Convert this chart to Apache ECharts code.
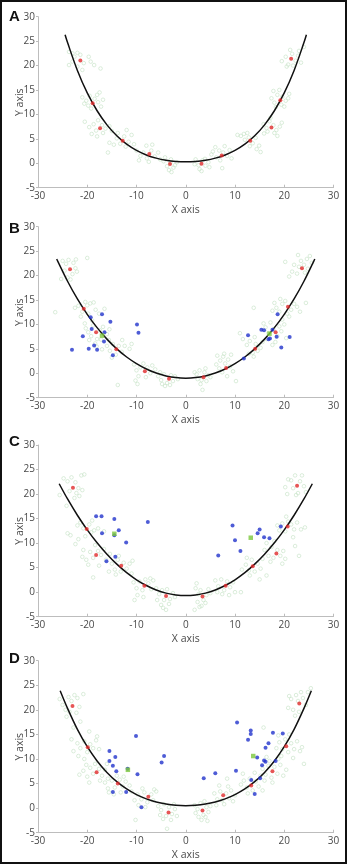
<!DOCTYPE html>
<html><head><meta charset="utf-8">
<script src="https://cdn.jsdelivr.net/npm/echarts@6/dist/echarts.min.js"></script>
<style>
html,body{margin:0;padding:0;background:#fff}
#c{position:absolute;left:0;top:0;width:347px;height:864px}
#frame{position:absolute;left:0;top:0;width:347px;height:864px;box-sizing:border-box;border:2px solid #111;pointer-events:none}
</style>
</head><body><div id="c"></div><div id="frame"></div>
<script>
// ---- data ----
const panelLabels = ['A', 'B', 'C', 'D'];
const xTicks = [-30, -20, -10, 0, 10, 20, 30];
const yTicks = [-5, 0, 5, 10, 15, 20, 25, 30];

// fitted curves
const curveXA = [-24.5,-24,-22,-20,-18,-16,-14,-12,-10,-8,-6,-4,-2,0,2,4,6,8,10,12,14,16,18,20,22,24,24.5];
const curveYA = [26.3,24.7,19.0,14.4,10.75,7.86,5.62,3.9,2.63,1.7,1.05,0.62,0.38,0.3,0.38,0.62,1.05,1.7,2.63,3.9,5.62,7.86,10.75,14.4,19.0,24.7,26.3];
const curveXB = [-26.2,-26,-24,-22,-20,-18,-16,-14,-12,-10,-8,-6,-4,-2,0,2,4,6,8,10,12,14,16,18,20,22,24,26,26.2];
const curveYB = [23.4,22.96,18.84,15.22,12.07,9.34,6.99,5.0,3.33,1.97,0.87,0.04,-0.54,-0.89,-1.0,-0.89,-0.54,0.04,0.87,1.97,3.33,5.0,6.99,9.34,12.07,15.22,18.84,22.96,23.4];
const curveXC = [-25.7,-24,-22,-20,-18,-16,-14,-12,-10,-8,-6,-4,-2,0,2,4,6,8,10,12,14,16,18,20,22,24,25.7];
const curveYC = [22.1,19.0,15.68,12.7,10.06,7.73,5.71,3.98,2.53,1.36,0.45,-0.19,-0.57,-0.7,-0.57,-0.19,0.45,1.36,2.53,3.98,5.71,7.73,10.06,12.7,15.68,19.0,22.1];
const curveXD = [-25.5,-24,-22,-20,-18,-16,-14,-12,-10,-8,-6,-4,-2,0,2,4,6,8,10,12,14,16,18,20,22,24,25.5];
const curveYD = [23.9,20.31,16.04,12.5,9.6,7.26,5.38,3.9,2.75,1.88,1.25,0.83,0.58,0.5,0.58,0.83,1.25,1.88,2.75,3.9,5.38,7.26,9.6,12.5,16.04,20.31,23.9];

// red points
const redA = [[-21.4,21.06],[-18.9,12.26],[-17.4,7.15],[-12.8,4.6],[-7.4,1.9],[-3.2,-0.15],[3.2,-0.08],[7.3,1.6],[13.1,4.6],[17.4,7.3],[19.2,12.9],[21.4,21.4]];
const redB = [[-23.5,21.3],[-20.7,13.2],[-18.2,8.4],[-14.1,4.9],[-8.3,0.4],[-3.4,-1.1],[3.6,-0.8],[8.2,1.1],[14.1,5.0],[18.25,8.4],[20.75,13.6],[23.6,21.5]];
const redC = [[-22.9,21.3],[-20.1,12.87],[-18.2,7.6],[-13.1,5.4],[-8.4,1.3],[-4.0,-0.8],[3.4,-0.9],[8.1,1.3],[13.6,5.3],[18.4,7.9],[20.7,13.4],[22.6,21.7]];
const redD = [[-23.0,20.8],[-19.9,12.4],[-18.1,7.3],[-13.8,5.0],[-7.6,2.3],[-3.5,-0.9],[3.4,-0.5],[7.6,2.6],[13.3,4.6],[17.6,7.5],[20.4,12.6],[23.05,21.3]];

// blue points
const blueA = [];
const blueB = [[-19.3,11.45],[-17.0,12.06],[-15.3,10.56],[-19.1,9.06],[-20.9,7.6],[-16.5,8.4],[-16.6,6.5],[-23.1,4.8],[-19.7,5.0],[-18.6,5.7],[-18.0,4.8],[-14.8,3.7],[-9.9,10.0],[-9.6,8.3],
  [18.65,12.1],[12.65,7.8],[15.35,8.9],[15.9,8.8],[17.6,8.9],[18.45,7.5],[16.8,6.95],[17.1,7.1],[21.1,7.4],[19.4,5.3],[11.8,3.0]];
const blueC = [[-18.2,15.5],[-17.1,15.5],[-14.5,14.9],[-17.0,12.0],[-14.5,11.6],[-13.6,12.6],[-12.1,10.15],[-16.1,6.3],[-14.3,7.2],[-7.7,14.3],
  [6.6,7.5],[9.5,13.6],[10.0,10.6],[11.1,8.4],[14.6,12.0],[15.0,12.8],[15.9,11.2],[17.0,11.0],[19.3,13.4]];
const blueD = [[-15.5,11.6],[-15.5,9.6],[-14.3,10.4],[-14.8,8.6],[-14.1,7.5],[-11.8,8.0],[-9.8,6.9],[-14.8,3.3],[-12.1,3.3],[-9.0,0.2],[-10.1,14.7],[-4.4,10.6],[-4.9,9.3],
  [3.65,6.1],[6.0,7.1],[10.2,7.6],[10.42,17.4],[13.2,15.8],[13.2,15.1],[12.65,13.9],[14.5,10.3],[16.8,13.2],[16.2,12.3],[17.7,15.35],[19.7,15.2],[15.9,9.7],[16.2,9.45],[18.25,9.6],[15.5,8.7],[15.1,6.1],[13.3,5.7],[14.0,2.9]];

// highlighted green points
const greenA = [];
const greenB = [[-17.0,7.7],[17.0,8.1]];
const greenC = [[-14.5,11.9],[13.2,11.1]];
const greenD = [[-11.75,7.8],[13.7,10.6]];

// faint background samples
const bgA = [[-23.7,22.8],[-23.0,22.5],[-22.0,22.6],[-22.6,21.8],[-21.4,22.2],[-20.7,20.5],[-21.0,19.1],[-23.7,20.1],[-22.0,19.8],[-23.0,20.8],[-19.3,20.8],[-18.6,20.1],[-17.3,19.4],[-19.7,21.8],
[-21.0,13.5],[-20.2,12.8],[-19.5,13.8],[-18.5,13.2],[-17.8,12.5],[-17.2,11.6],[-19.8,11.8],[-20.6,12.2],[-18.0,14.0],[-16.8,13.0],[-19.2,11.2],[-17.5,14.5],
[-20.5,8.5],[-19.6,7.4],[-18.7,8.0],[-18.2,6.7],[-17.0,7.8],[-16.3,7.1],[-15.5,7.6],[-16.8,6.2],[-19.1,6.0],[-17.8,8.8],[-15.0,6.6],[-18.0,5.5],
[-15.5,4.2],[-14.6,3.8],[-14.0,5.1],[-13.3,4.0],[-12.5,5.5],[-11.6,4.4],[-11.0,5.8],[-12.2,3.4],[-13.8,6.2],[-10.5,3.9],[-15.8,2.2],[-12.0,6.8],
[-10.0,2.6],[-9.2,1.5],[-8.6,2.2],[-7.9,1.0],[-7.0,2.6],[-6.3,1.4],[-5.6,2.2],[-8.0,3.6],[-6.8,3.8],[-9.5,0.6],[-5.2,0.8],[-7.5,0.3],
[-4.5,0.4],[-3.8,-0.6],[-3.0,0.8],[-2.5,-0.9],[-3.4,-1.4],[-2.9,-1.8],[-1.8,0.2],[-4.2,1.2],[-3.1,0.2],[-2.2,-0.4],
[2.0,0.8],[2.6,-0.4],[3.4,0.6],[4.0,-0.5],[2.8,-1.2],[3.9,0.9],[4.6,0.2],[1.8,-0.2],[3.2,-1.6],[4.8,-0.8],
[5.5,2.4],[6.2,1.2],[6.8,2.6],[7.6,2.2],[8.4,1.5],[7.0,0.6],[8.9,2.7],[6.0,3.3],[7.9,3.5],[9.3,1.0],[5.2,1.8],[7.4,-1.0],
[10.5,5.8],[11.2,5.6],[12.0,4.8],[12.8,5.3],[13.6,4.1],[14.2,5.2],[14.9,3.6],[13.0,3.5],[11.8,6.0],[15.2,2.3],[12.5,6.2],[14.4,2.9],
[15.8,8.0],[16.4,7.2],[17.0,8.6],[17.8,7.8],[18.4,6.8],[19.1,7.5],[18.0,6.2],[16.6,6.5],[19.5,8.3],[17.2,9.3],[18.6,5.6],[15.9,6.1],
[17.4,13.3],[18.0,12.4],[18.6,14.0],[19.6,13.6],[20.3,12.8],[20.8,13.3],[18.3,11.5],[19.0,15.0],[20.0,11.6],[17.8,14.8],[21.0,14.2],[19.4,12.0],
[19.5,20.9],[20.3,21.8],[20.8,20.2],[21.6,22.4],[22.3,21.0],[22.8,22.0],[21.2,23.2],[23.4,20.6],[23.0,23.0],[20.5,19.8],[24.0,23.8],[21.8,20.0]];
const bgB = [[-25.0,23.0],[-24.3,22.4],[-23.8,23.2],[-22.8,22.6],[-22.4,21.5],[-24.6,21.0],[-23.0,20.3],[-22.1,20.8],[-24.0,19.6],[-25.3,19.3],[-22.3,23.3],[-23.4,19.2],[-20.0,23.6],[-26.5,12.5],
[-22.5,13.4],[-21.8,13.8],[-21.0,12.6],[-20.0,13.9],[-19.4,14.3],[-18.7,14.5],[-19.8,12.2],[-18.3,13.0],[-21.3,11.6],[-17.6,12.2],[-16.5,13.2],[-20.4,14.6],
[-20.3,9.2],[-19.8,8.4],[-19.2,7.6],[-18.8,9.8],[-18.0,7.0],[-17.4,8.8],[-16.8,9.5],[-19.6,6.8],[-18.4,6.1],[-17.2,6.9],[-20.5,10.2],[-19.0,10.8],[-16.0,8.0],[-15.5,9.0],[-18.1,5.5],[-17.0,4.9],
[-16.0,5.6],[-15.4,4.6],[-14.8,6.0],[-14.2,3.8],[-13.6,5.6],[-13.0,4.4],[-12.4,5.6],[-15.0,3.2],[-12.9,6.8],[-11.4,5.0],[-13.8,-2.4],[-15.6,6.8],[-11.0,6.0],
[-10.5,1.8],[-10.0,0.6],[-9.6,-0.6],[-9.2,1.2],[-8.6,2.0],[-7.8,1.2],[-7.2,0.0],[-6.8,1.6],[-10.2,-1.5],[-9.8,-2.2],[-8.1,-0.8],[-6.2,0.8],
[-5.6,-0.6],[-5.0,-1.4],[-4.4,-0.2],[-3.8,-2.0],[-3.2,-2.4],[-2.6,-1.6],[-2.2,-0.6],[-4.2,-2.6],[-1.6,-1.2],[-5.2,0.2],[-3.0,-0.4],[-4.8,-2.2],
[2.2,-0.2],[2.8,0.6],[3.2,-1.4],[3.8,0.2],[4.2,-1.6],[4.6,-0.4],[3.0,-2.2],[2.4,-1.2],[4.0,1.0],[5.0,-0.8],[3.4,-3.4],[1.8,0.2],
[6.4,3.6],[7.0,2.6],[7.6,3.4],[8.0,2.0],[8.6,2.8],[9.0,1.4],[7.4,0.2],[6.8,1.0],[9.6,0.4],[8.4,-0.6],[10.2,-1.6],[6.2,1.8],[9.2,3.8],[7.8,4.0],
[11.0,8.2],[11.6,7.0],[12.4,5.8],[13.0,6.6],[13.6,4.2],[14.2,6.0],[14.6,4.6],[15.2,5.2],[12.8,4.0],[13.8,3.4],[15.6,6.4],[14.0,7.4],[13.8,13.4],
[16.2,9.4],[16.8,8.2],[17.2,10.4],[17.8,9.0],[18.6,7.6],[19.0,9.6],[19.4,8.6],[20.0,10.0],[18.2,6.4],[17.6,5.8],[20.4,7.2],[16.4,7.0],[19.6,11.0],[15.8,10.2],
[18.4,13.4],[19.0,12.6],[19.6,14.2],[20.2,14.8],[20.6,12.2],[21.4,13.0],[22.0,14.2],[22.6,13.6],[19.2,15.2],[23.2,12.6],[24.4,14.4],[21.0,11.6],[17.6,12.8],[18.0,14.4],
[21.6,20.8],[22.0,22.2],[22.6,20.4],[23.0,21.8],[23.4,23.0],[24.0,22.2],[24.6,23.4],[24.2,20.6],[22.8,24.2],[25.2,24.0],[21.0,19.8],[25.6,22.6],[20.2,22.8],[24.8,21.4]];
const bgC = [[-25.6,19.8],[-24.8,23.2],[-24.0,22.6],[-23.2,23.4],[-22.4,22.4],[-21.8,21.2],[-22.2,20.2],[-21.6,19.6],[-23.6,20.6],[-21.2,23.8],[-20.6,24.0],[-22.6,19.2],[-24.2,17.6],[-21.0,20.8],
[-24.0,12.0],[-23.4,11.6],[-22.0,13.6],[-21.4,14.2],[-20.8,13.0],[-19.6,13.8],[-19.2,12.2],[-18.6,12.6],[-20.4,11.4],[-17.8,13.0],[-21.8,10.8],[-22.4,9.8],[-19.0,14.6],[-16.6,12.4],
[-21.0,7.2],[-20.2,6.6],[-19.4,8.2],[-18.8,7.0],[-17.8,8.4],[-17.2,7.6],[-16.6,8.8],[-19.8,5.6],[-18.4,9.6],[-16.2,6.6],[-20.8,8.6],[-17.6,5.4],[-18.8,3.0],[-15.4,7.8],
[-15.0,5.8],[-14.4,4.6],[-13.8,6.6],[-13.2,4.2],[-12.6,6.0],[-12.0,4.8],[-11.4,5.8],[-14.2,3.6],[-10.8,6.4],[-13.6,7.4],[-11.0,3.8],[-15.6,4.2],
[-10.6,2.0],[-10.0,0.8],[-9.4,2.2],[-8.8,0.4],[-8.2,2.6],[-7.6,1.8],[-7.0,0.6],[-6.6,2.4],[-9.8,-0.6],[-10.4,-1.6],[-7.2,2.8],[-8.6,-1.0],
[-6.0,0.8],[-5.4,-0.4],[-4.8,0.4],[-4.4,-1.6],[-3.8,0.6],[-3.2,-1.4],[-2.6,-0.2],[-5.0,-2.6],[-4.6,-3.2],[-3.4,-2.4],[-2.2,-1.0],[-5.8,-1.6],[-4.0,-3.6],
[2.0,0.8],[2.6,-0.4],[3.0,0.4],[3.6,-1.6],[4.2,-0.6],[4.6,0.6],[2.4,-2.0],[3.2,-2.8],[4.0,-2.2],[1.8,-3.6],[2.8,-3.0],[5.0,-0.2],[2.2,1.8],
[6.0,2.4],[6.6,1.2],[7.2,2.6],[7.8,0.4],[8.4,2.2],[9.0,1.0],[9.6,2.0],[7.4,-0.4],[10.0,0.0],[8.8,-0.6],[11.2,0.0],[6.4,0.0],
[11.4,4.6],[12.2,5.6],[12.8,4.4],[13.4,6.6],[14.0,4.2],[14.6,5.8],[15.2,4.8],[15.6,6.8],[13.0,3.4],[16.4,3.4],[12.4,7.0],[15.0,2.6],
[16.0,8.6],[16.8,7.4],[17.4,9.2],[17.8,7.0],[18.6,8.6],[19.2,7.4],[19.8,8.4],[20.2,6.8],[18.0,10.4],[16.4,10.0],[19.6,5.8],[17.2,6.2],
[19.0,12.6],[19.6,14.0],[20.2,12.4],[20.8,14.4],[21.4,13.8],[22.0,12.8],[22.6,14.2],[23.4,12.8],[20.4,15.4],[21.8,11.2],[22.2,9.4],[23.0,7.4],[24.2,13.2],[18.6,13.6],
[20.2,21.4],[20.6,20.0],[21.4,22.8],[21.8,21.2],[22.2,23.8],[22.8,20.2],[23.2,22.6],[23.6,23.8],[24.0,21.6],[20.8,23.0],[24.4,20.4],[22.4,19.8]];
const bgD = [[-25.6,22.2],[-25.0,21.0],[-24.4,20.0],[-23.8,22.6],[-23.2,21.8],[-22.6,23.0],[-22.0,22.4],[-21.6,20.6],[-22.2,19.4],[-20.8,23.2],[-24.2,18.6],[-21.4,17.6],[-23.6,19.6],[-22.8,16.4],
[-23.2,14.0],[-22.0,13.2],[-21.4,12.2],[-20.6,13.6],[-20.0,11.4],[-19.4,13.0],[-18.8,12.2],[-18.2,13.8],[-19.6,15.6],[-21.8,10.6],[-17.6,12.0],[-20.6,10.0],[-18.0,14.6],[-22.8,11.6],
[-21.6,6.8],[-20.8,7.6],[-20.0,6.4],[-19.4,8.2],[-18.8,7.0],[-17.6,8.0],[-17.0,6.6],[-16.4,7.8],[-19.6,5.2],[-18.4,9.0],[-16.0,9.0],[-20.2,8.8],[-17.4,5.6],[-15.8,6.0],
[-16.4,5.2],[-15.8,4.0],[-15.0,5.6],[-14.4,4.2],[-13.4,5.8],[-12.8,4.4],[-12.2,5.4],[-14.6,2.8],[-13.2,3.2],[-11.4,4.6],[-15.6,3.2],[-12.6,6.4],[-11.0,3.4],[-14.0,6.6],
[-10.4,1.6],[-9.8,2.8],[-9.0,1.8],[-8.4,3.2],[-7.8,1.2],[-7.0,2.8],[-6.6,1.6],[-6.0,3.4],[-9.6,0.6],[-8.2,0.2],[-10.2,-2.4],[-6.4,3.8],[-8.8,4.0],
[-5.6,0.4],[-5.0,-0.4],[-4.4,0.8],[-4.0,-1.6],[-3.4,0.2],[-2.8,-1.2],[-2.2,-0.2],[-4.6,-2.2],[-3.0,-2.4],[-3.8,-4.2],[-1.8,-1.6],[-5.2,-1.4],[-2.4,0.8],
[1.8,0.6],[2.4,-0.2],[3.0,1.0],[3.6,-1.4],[4.2,0.2],[4.6,-0.8],[2.6,-1.8],[3.2,-2.4],[4.0,-1.8],[5.0,0.4],[2.0,-1.0],[3.8,1.4],[4.4,-2.6],
[5.8,3.0],[6.4,1.8],[7.0,3.4],[7.4,1.6],[8.2,3.0],[8.8,2.0],[9.2,3.6],[7.8,0.8],[9.6,1.4],[8.6,4.4],[6.2,0.6],[10.0,2.6],[6.8,4.6],[8.4,6.0],
[11.2,4.8],[11.8,5.6],[12.4,4.2],[13.0,6.0],[13.6,3.6],[14.2,5.4],[14.8,4.4],[15.2,6.6],[12.6,3.0],[14.0,7.2],[15.6,3.6],[11.6,7.0],[16.0,5.6],
[15.6,8.0],[16.2,6.8],[16.8,8.6],[17.4,6.2],[18.0,8.4],[18.6,7.0],[19.2,8.8],[19.8,6.6],[17.0,9.6],[16.4,10.4],[18.8,10.0],[20.4,7.8],[15.8,16.4],[17.6,5.2],
[18.4,12.2],[19.0,13.4],[19.6,12.0],[20.2,14.0],[20.8,11.4],[21.4,13.2],[22.0,12.0],[22.6,13.6],[21.0,15.0],[23.2,11.6],[19.4,10.6],[21.8,10.2],[18.8,14.8],[23.6,12.4],
[20.8,20.4],[21.4,22.2],[21.8,20.0],[22.4,23.0],[22.8,21.8],[23.4,23.6],[23.8,22.4],[24.4,21.0],[22.2,18.8],[24.8,23.6],[25.4,24.4],[23.0,19.6],[21.0,22.8],[24.0,9.0]];

// ---- layout (pixels) ----
const gridTops = [16.7, 226.7, 445, 660.7];
const gridHeights = [171, 171, 171.7, 172];
const letterTops = [9, 221, 434, 651];

const curves = [[curveXA, curveYA], [curveXB, curveYB], [curveXC, curveYC], [curveXD, curveYD]];
const reds = [redA, redB, redC, redD];
const blues = [blueA, blueB, blueC, blueD];
const greens = [greenA, greenB, greenC, greenD];
const bgs = [bgA, bgB, bgC, bgD];

const axisColor = '#bdbdbd';
const labelColor = '#4a4a4a';
const font = 'Open Sans';

const grid = [], xAxis = [], yAxis = [], series = [], graphic = [];
for (let i = 0; i < 4; i++) {
  grid.push({ left: 38, width: 295.5, top: gridTops[i], height: gridHeights[i] });
  xAxis.push({
    gridIndex: i, type: 'value', min: xTicks[0], max: xTicks[xTicks.length - 1], interval: 10,
    name: 'X axis', nameLocation: 'middle', nameGap: 16.5, nameMoveOverlap: false,
    nameTextStyle: { color: labelColor, fontSize: 10.5, fontFamily: font },
    axisLine: { onZero: false, lineStyle: { color: axisColor, width: 1 } },
    axisTick: { show: true, inside: true, length: 3, lineStyle: { color: axisColor } },
    axisLabel: { color: labelColor, fontSize: 10, fontFamily: font, margin: 3 },
    splitLine: { show: false }
  });
  yAxis.push({
    gridIndex: i, type: 'value', min: yTicks[0], max: yTicks[yTicks.length - 1], interval: 5,
    name: 'Y axis', nameLocation: 'middle', nameGap: 12, nameMoveOverlap: false,
    nameTextStyle: { color: labelColor, fontSize: 10.5, fontFamily: font },
    axisLine: { show: true, onZero: false, lineStyle: { color: axisColor, width: 1 } },
    axisTick: { show: true, inside: false, length: 2, lineStyle: { color: axisColor } },
    axisLabel: { color: labelColor, fontSize: 10, fontFamily: font, margin: 3 },
    splitLine: { show: false }
  });
  series.push({
    type: 'scatter', xAxisIndex: i, yAxisIndex: i, data: bgs[i], symbol: 'circle', symbolSize: 3.6,
    itemStyle: { color: 'rgba(255,255,255,0)', borderColor: '#c6e2c6', borderWidth: 0.8 }, z: 1, silent: true
  });
  const cx = curves[i][0], cy = curves[i][1];
  series.push({
    type: 'line', xAxisIndex: i, yAxisIndex: i, data: cx.map((x, k) => [x, cy[k]]),
    showSymbol: false, smooth: 0.35, lineStyle: { color: '#111', width: 1.5 }, z: 2, silent: true
  });
  series.push({
    type: 'scatter', xAxisIndex: i, yAxisIndex: i, data: blues[i], symbol: 'circle', symbolSize: 4,
    itemStyle: { color: '#2233cc' }, z: 3
  });
  series.push({
    type: 'scatter', xAxisIndex: i, yAxisIndex: i, data: reds[i], symbol: 'circle', symbolSize: 4,
    itemStyle: { color: '#e02a2a' }, z: 4
  });
  series.push({
    type: 'scatter', xAxisIndex: i, yAxisIndex: i, data: greens[i], symbol: 'rect', symbolSize: 4.5,
    itemStyle: { color: '#7cc83c' }, z: 5
  });
  graphic.push({
    type: 'text', left: 9, top: letterTops[i],
    style: { text: panelLabels[i], fill: '#111', font: 'bold 15px "Liberation Sans", Arial, sans-serif' }
  });
}

const chart = echarts.init(document.getElementById('c'), null, { renderer: 'canvas' });
chart.setOption({ animation: false, backgroundColor: '#fff', grid, xAxis, yAxis, series, graphic });
</script>
</body></html>
